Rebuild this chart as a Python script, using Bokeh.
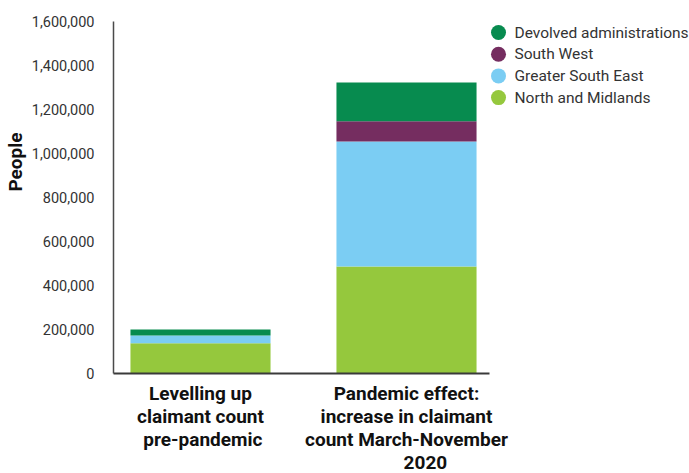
from bokeh.plotting import figure
from bokeh.models import Range1d, FixedTicker, NumeralTickFormatter, ColumnDataSource, Title
from bokeh.embed import file_html
from bokeh.resources import INLINE
from bokeh.core.properties import value

# ---- data ----
NB = "\u00a0"
categories = [
    "Levelling up\nclaimant count\n" + NB + "pre-pandemic",
    "Pandemic effect:\nincrease in claimant\ncount March-November\n" + NB * 8 + "2020",
]
series = ["North and Midlands", "Greater South East", "South West", "Devolved administrations"]
north_midlands = [138000, 486000]
greater_south_east = [35000, 569000]
south_west = [0, 92000]
devolved = [27000, 176000]
colors = ["#95C83D", "#7BCDF3", "#752D60", "#078B4F"]
y_ticks = [0, 200000, 400000, 600000, 800000, 1000000, 1200000, 1400000, 1600000]
y_title = "People"

# ---- layout ----
L, T = 112, 21
FW, FH = 577, 352
FONT = "Roboto"

p = figure(frame_width=FW, frame_height=FH, output_backend="svg", toolbar_location=None,
           x_range=Range1d(-0.4223, 2.3786), y_range=Range1d(0, 1600000),
           min_border_left=L, min_border_top=T, min_border_right=0,
           min_border_bottom=0)
p.outline_line_color = None
p.xgrid.visible = False
p.ygrid.visible = False
p.background_fill_color = "white"
p.border_fill_color = "white"

keys = ["nm", "gse", "sw", "da"]
src = ColumnDataSource(dict(x=list(range(len(categories))),
                            nm=north_midlands, gse=greater_south_east,
                            sw=south_west, da=devolved))
p.vbar_stack(keys, x="x", width=0.68, color=colors, line_color=None, source=src)

# axes
ax = p.xaxis[0]
ax.ticker = FixedTicker(ticks=list(range(len(categories))))
ax.major_label_overrides = {i: c for i, c in enumerate(categories)}
ax.bounds = (-0.4223, 1.403)
ax.axis_line_color = "#3a3a3a"
ax.axis_line_width = 2
ax.major_tick_line_color = None
ax.minor_tick_line_color = None
ax.major_label_text_font = FONT
ax.major_label_text_font_style = "bold"
ax.major_label_text_font_size = "19px"
ax.major_label_text_line_height = 1.0
ax.major_label_text_color = "#111111"
ax.major_label_standoff = 2

ay = p.yaxis[0]
ay.ticker = FixedTicker(ticks=y_ticks)
ay.formatter = NumeralTickFormatter(format="0,0")
ay.axis_line_color = "#4a4a4a"
ay.axis_line_width = 1.5
ay.major_tick_line_color = None
ay.minor_tick_line_color = None
ay.major_label_text_font = FONT
ay.major_label_text_font_size = "14.5px"
ay.major_label_text_color = "#333333"
ay.major_label_standoff = 13

t = Title(text=y_title, align="right", offset=111, standoff=3, text_font=FONT,
          text_font_style="bold", text_font_size="19px", text_color="#111111")
p.add_layout(t, "left")

# ---- manual legend (pixel coordinates in frame) ----
p.extra_x_ranges = {"px": Range1d(0, FW)}
p.extra_y_ranges = {"py": Range1d(FH, 0)}
leg_labels = series[::-1]
leg_colors = colors[::-1]
lx, ly0, dy = 385, 11, 21.7
lsrc = ColumnDataSource(dict(x=[lx] * len(leg_labels),
                             tx=[lx + 16] * len(leg_labels),
                             y=[ly0 + i * dy for i in range(len(leg_labels))],
                             label=leg_labels, color=leg_colors))
p.scatter("x", "y", size=15, color="color", line_color=None, source=lsrc,
          x_range_name="px", y_range_name="py")
p.text("tx", "y", text="label", source=lsrc, text_baseline="middle",
       text_font=value(FONT), text_font_size="15.5px", text_color="#333333",
       x_range_name="px", y_range_name="py")

open("out.html", "w").write(file_html(p, INLINE))
